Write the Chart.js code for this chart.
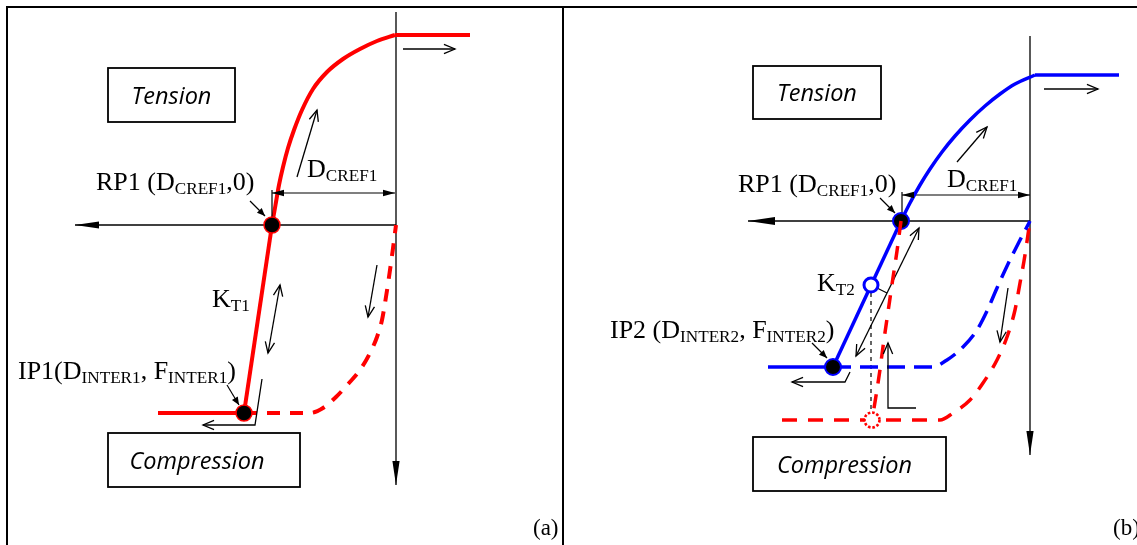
<!DOCTYPE html>
<html>
<head>
<meta charset="utf-8">
<script src="https://cdn.jsdelivr.net/npm/chart.js@4/dist/chart.umd.min.js"></script>
<style>
  html, body { margin: 0; padding: 0; background: #fff; }
  #wrap { position: relative; width: 1137px; height: 545px; overflow: hidden; background: #fff; }
  canvas { position: absolute; top: 0; }
  #cA { left: 0; }
  #cB { left: 563px; }
  .rule { position: absolute; background: #000; }
</style>
</head>
<body>
<div id="wrap">
  <canvas id="cA" width="563" height="545"></canvas>
  <canvas id="cB" width="574" height="545"></canvas>
  <div class="rule" style="left:6px;top:6px;width:1131px;height:2px"></div>
  <div class="rule" style="left:6px;top:6px;width:2px;height:539px"></div>
  <div class="rule" style="left:562px;top:6px;width:2px;height:539px"></div>
</div>
<script>
// ---------------- Panel (a) values: x = displacement (origin at axis cross), y = force ----------------
const aAxisH = [[0, 0], [-321, 0]];
const aAxisV = [[0, 213], [0, -260]];
const aTension = [[-124, 0], [-120.5, 20], [-117, 40], [-113, 58], [-108, 77], [-102, 95], [-94, 115], [-83, 136], [-69, 153], [-53, 166], [-36, 176], [-19, 184], [-1, 190]];
const aTensionCap = [[-1, 190], [74, 190]];
const aKT1 = [[-124, 0], [-152, -188]];
const aCompCap = [[-152, -188], [-238, -188]];
const aUnload = [[-152, -188], [-86, -188], [-73, -183], [-60, -172], [-47, -158], [-36, -145], [-26, -128], [-19, -112], [-14, -95], [-10.5, -75], [-7, -52], [-3.5, -27], [0, 0]];
const aKeyPoints = [[-124, 0], [-152, -188]];           // RP1, IP1
const aDim = [[-124, 32], [-1, 32]];
const aDimTick = [[-124, 35], [-124, 0]];
const aArrUp = [[-99, 48], [-79, 115]];
const aArrKT = [[-116, -60], [-128, -128]];
const aArrDown = [[-19, -40], [-28, -92]];
const aArrIP = [[-134, -154], [-141, -200], [-193, -200]];
const aArrRight = [[7, 176], [59, 176]];
const aPtrRP = [[-146, 24], [-131, 9]];
const aPtrIP = [[-169, -160], [-157, -180]];
const aBoxTension = [[-288, 157], [-161, 103]];
const aBoxComp = [[-288, -208], [-96, -262]];

// ---------------- Panel (b) values ----------------
const bAxisH = [[0, 0], [-282, 0]];
const bAxisV = [[0, 185], [0, -234]];
const bTension = [[-129, 0], [-120, 18], [-110, 36], [-100, 52], [-88, 69], [-75, 85], [-60, 101], [-45, 115], [-30, 127], [-15, 137], [5, 146]];
const bTensionCap = [[5, 146], [89, 146]];
const bKT2 = [[-129, 0], [-197, -146]];
const bCompCap = [[-197, -146], [-262, -146]];
const bUnload = [[-197, -146], [-98, -146], [-83, -139], [-67, -126], [-53, -109], [-43, -90], [-33, -67], [-22, -43], [-11, -21], [0, 0]];
const bReload = [[-129, 0], [-133, -30], [-137.5, -60], [-142, -91], [-146.5, -122], [-150.5, -152], [-154.5, -178], [-158, -199]];
const bPrevUnload = [[-248, -199], [-90, -199], [-77, -192], [-60, -179], [-47, -162], [-33, -139], [-23, -116], [-15, -89], [-10, -62], [-6, -40], [0, 0]];
const bProj = [[-159, -64], [-159, -199]];
const bKeyPoints = [[-129, 0], [-197, -146]];           // RP1, IP2
const bOpenPoint = [[-159, -64]];
const bDottedPoint = [[-158, -199]];
const bDim = [[-128, 26], [0, 26]];
const bDimTick = [[-128, 29], [-128, 0]];
const bArrUp = [[-73, 59], [-43, 94]];
const bArrKT = [[-111, -7], [-174, -135]];
const bLeader = [[-153, -67], [-143, -72]];
const bArrDown = [[-22, -67], [-30, -121]];
const bArrIP = [[-180, -151], [-185, -161], [-238, -161]];
const bArrReload = [[-114, -187], [-142, -187], [-142, -122]];
const bArrRight = [[14, 132], [68, 132]];
const bPtrRP = [[-150, 23], [-135, 8]];
const bPtrIP = [[-218, -122], [-203, -137]];
const bBoxTension = [[-277, 155], [-149, 102]];
const bBoxComp = [[-277, -216], [-84, -270]];

// ---------------- texts ----------------
const txtTension = 'Tension';
const txtComp = 'Compression';
const lblRP1 = [['RP1 (D', 0], ['CREF1', 1], [',0)', 0]];
const lblDcref = [['D', 0], ['CREF1', 1]];
const lblKT1 = [['K', 0], ['T1', 1]];
const lblKT2 = [['K', 0], ['T2', 1]];
const lblIP1 = [['IP1(D', 0], ['INTER1', 1], [', F', 0], ['INTER1', 1], [')', 0]];
const lblIP2 = [['IP2 (D', 0], ['INTER2', 1], [', F', 0], ['INTER2', 1], [')', 0]];
const lblA = [['(a)', 0]];
const lblB = [['(b)', 0]];

// ---------------- styling helpers ----------------
const RED = '#ff0000', BLUE = '#0000ff', BLK = '#000000';
const pts = arr => arr.map(([x, y]) => ({ x, y }));
const SMOOTH = { cubicInterpolationMode: 'monotone' };

function line(arr, color, width, extra) {
  return Object.assign({
    data: pts(arr), showLine: true, borderColor: color, borderWidth: width,
    pointRadius: 0, pointHoverRadius: 0, fill: false, tension: 0, clip: false,
    borderCapStyle: 'butt', borderJoinStyle: 'miter'
  }, extra || {});
}
function dots(arr, fill, border, r, bw, extra) {
  return Object.assign({
    data: pts(arr), showLine: false, pointRadius: r, pointHoverRadius: r,
    pointBackgroundColor: fill, pointBorderColor: border, pointBorderWidth: bw, clip: false
  }, extra || {});
}
const FILLED_AXIS = { type: 'filled', len: 24, w: 3.6 };
const FILLED_DIM = { type: 'filled', len: 12, w: 3.2 };
const FILLED_PTR = { type: 'filled', len: 8, w: 3.4 };
const OPEN = { type: 'open', len: 12, ang: 0.4 };

function dottedCircle() {
  const c = document.createElement('canvas');
  c.width = 22; c.height = 22;
  const g = c.getContext('2d');
  g.beginPath(); g.arc(11, 11, 7.5, 0, Math.PI * 2);
  g.fillStyle = '#fff'; g.fill();
  g.setLineDash([2.6, 1.8]); g.lineWidth = 2.6; g.strokeStyle = RED; g.stroke();
  return c;
}

function schematicPlugin(boxes, labels) {
  return {
    id: 'schematic',
    afterDatasetsDraw(chart) {
      const { ctx } = chart;
      const sx = chart.scales.x, sy = chart.scales.y;
      const X = v => sx.getPixelForValue(v), Y = v => sy.getPixelForValue(v);
      ctx.save();
      chart.data.datasets.forEach(ds => {
        if (!ds.arrows) return;
        const d = ds.data;
        const head = (from, to, spec) => {
          const ax = X(from.x), ay = Y(from.y), bx = X(to.x), by = Y(to.y);
          const t = Math.atan2(by - ay, bx - ax);
          ctx.strokeStyle = BLK; ctx.fillStyle = BLK; ctx.setLineDash([]);
          if (spec.type === 'filled') {
            const cx = bx - spec.len * Math.cos(t), cy = by - spec.len * Math.sin(t);
            ctx.beginPath();
            ctx.moveTo(bx, by);
            ctx.lineTo(cx - spec.w * Math.sin(t), cy + spec.w * Math.cos(t));
            ctx.lineTo(cx + spec.w * Math.sin(t), cy - spec.w * Math.cos(t));
            ctx.closePath(); ctx.fill();
          } else {
            ctx.lineWidth = 1.3;
            ctx.beginPath();
            ctx.moveTo(bx - spec.len * Math.cos(t - spec.ang), by - spec.len * Math.sin(t - spec.ang));
            ctx.lineTo(bx, by);
            ctx.lineTo(bx - spec.len * Math.cos(t + spec.ang), by - spec.len * Math.sin(t + spec.ang));
            ctx.stroke();
          }
        };
        if (ds.arrows.end) head(d[d.length - 2], d[d.length - 1], ds.arrows.end);
        if (ds.arrows.start) head(d[1], d[0], ds.arrows.start);
      });
      boxes.forEach(b => {
        const x0 = X(b.rect[0][0]), y0 = Y(b.rect[0][1]), x1 = X(b.rect[1][0]), y1 = Y(b.rect[1][1]);
        ctx.lineWidth = 1.8; ctx.strokeStyle = BLK; ctx.setLineDash([]);
        ctx.strokeRect(x0, y0, x1 - x0, y1 - y0);
        ctx.font = 'italic 23.5px "Open Sans"';
        ctx.fillStyle = BLK; ctx.textAlign = 'center'; ctx.textBaseline = 'alphabetic';
        ctx.fillText(b.text, (x0 + x1) / 2 + (b.dx || 0), (y0 + y1) / 2 + 8.5);
      });
      labels.forEach(l => {
        ctx.save();
        ctx.translate(X(l.at[0]), Y(l.at[1]));
        ctx.scale(l.stretch || 1.04, 1);
        ctx.fillStyle = BLK; ctx.textAlign = 'left'; ctx.textBaseline = 'alphabetic';
        let cx = 0;
        l.parts.forEach(([t, sub]) => {
          ctx.font = sub ? '16.5px "Liberation Serif"' : (l.size || 25) + 'px "Liberation Serif"';
          ctx.fillText(t, cx, sub ? 4 : 0);
          cx += ctx.measureText(t).width;
        });
        ctx.restore();
      });
      ctx.restore();
    }
  };
}

function makeChart(id, xr, yr, datasets, boxes, labels) {
  const n = datasets.length;
  datasets.forEach((d, i) => { d.order = n - i; });   // first listed = drawn first (bottom)
  return new Chart(document.getElementById(id), {
    type: 'scatter',
    data: { datasets },
    options: {
      responsive: false, animation: false, events: [],
      layout: { padding: 0, autoPadding: false },
      plugins: { legend: { display: false }, tooltip: { enabled: false } },
      scales: {
        x: { type: 'linear', display: false, min: xr[0], max: xr[1] },
        y: { type: 'linear', display: false, min: yr[0], max: yr[1] }
      }
    },
    plugins: [schematicPlugin(boxes, labels)]
  });
}

// ---------------- Panel (a) ----------------
makeChart('cA', [-396, 167], [-320, 225], [
  line(aAxisH, BLK, 1.3, { arrows: { end: FILLED_AXIS } }),
  line(aAxisV, BLK, 1.3, { arrows: { end: FILLED_AXIS } }),
  line(aDim, BLK, 1.2, { arrows: { start: FILLED_DIM, end: FILLED_DIM } }),
  line(aUnload, RED, 4, Object.assign({ borderDash: [13, 10] }, SMOOTH)),
  line(aCompCap, RED, 4),
  line(aKT1, RED, 4),
  line(aTension, RED, 4, SMOOTH),
  line(aTensionCap, RED, 4),
  line(aDimTick, BLK, 1.2),
  line(aArrUp, BLK, 1.3, { arrows: { end: OPEN } }),
  line(aArrKT, BLK, 1.3, { arrows: { start: OPEN, end: OPEN } }),
  line(aArrDown, BLK, 1.3, { arrows: { end: OPEN } }),
  line(aArrIP, BLK, 1.3, { arrows: { end: OPEN } }),
  line(aArrRight, BLK, 1.3, { arrows: { end: OPEN } }),
  line(aPtrRP, BLK, 1.2, { arrows: { end: FILLED_PTR } }),
  line(aPtrIP, BLK, 1.2, { arrows: { end: FILLED_PTR } }),
  dots(aKeyPoints, BLK, RED, 8, 1.5)
], [
  { rect: aBoxTension, text: txtTension },
  { rect: aBoxComp, text: txtComp, dx: -7 }
], [
  { at: [-300, 35], parts: lblRP1 },
  { at: [-89, 48], parts: lblDcref },
  { at: [-184, -82], parts: lblKT1 },
  { at: [-378, -154], parts: lblIP1 },
  { at: [137, -310], parts: lblA, size: 23, stretch: 1 }
]);

// ---------------- Panel (b) ----------------
makeChart('cB', [-467, 107], [-324, 221], [
  line(bAxisH, BLK, 1.3, { arrows: { end: Object.assign({}, FILLED_AXIS, { len: 27, w: 4 }) } }),
  line(bAxisV, BLK, 1.3, { arrows: { end: FILLED_AXIS } }),
  line(bDim, BLK, 1.2, { arrows: { start: FILLED_DIM, end: FILLED_DIM } }),
  line(bProj, BLK, 1.2, { borderDash: [4, 4] }),
  line(bPrevUnload, RED, 3.5, Object.assign({ borderDash: [15, 11] }, SMOOTH)),
  line(bUnload, BLUE, 3.5, Object.assign({ borderDash: [18, 9] }, SMOOTH)),
  line(bCompCap, BLUE, 3.5),
  line(bKT2, BLUE, 3.5),
  line(bTension, BLUE, 3.5, SMOOTH),
  line(bTensionCap, BLUE, 3.5),
  line(bDimTick, BLK, 1.2),
  line(bArrUp, BLK, 1.3, { arrows: { end: OPEN } }),
  line(bArrKT, BLK, 1.3, { arrows: { start: OPEN, end: OPEN } }),
  line(bLeader, BLK, 1.2),
  line(bArrDown, BLK, 1.3, { arrows: { end: OPEN } }),
  line(bArrIP, BLK, 1.3, { arrows: { end: OPEN } }),
  line(bArrReload, BLK, 1.3, { arrows: { end: OPEN } }),
  line(bArrRight, BLK, 1.3, { arrows: { end: OPEN } }),
  line(bPtrRP, BLK, 1.2, { arrows: { end: FILLED_PTR } }),
  line(bPtrIP, BLK, 1.2, { arrows: { end: FILLED_PTR } }),
  dots(bKeyPoints, BLK, BLUE, 8, 2),
  line(bReload, RED, 3.5, Object.assign({ borderDash: [14, 11] }, SMOOTH)),
  dots(bOpenPoint, '#ffffff', BLUE, 7, 3),
  dots(bDottedPoint, '#ffffff', RED, 8, 0, { pointStyle: dottedCircle() })
], [
  { rect: bBoxTension, text: txtTension },
  { rect: bBoxComp, text: txtComp, dx: -5 }
], [
  { at: [-292, 29], parts: lblRP1 },
  { at: [-83, 34], parts: lblDcref },
  { at: [-213, -70], parts: lblKT2 },
  { at: [-420, -117], parts: lblIP2 },
  { at: [83, -314], parts: lblB, size: 23, stretch: 1 }
]);
</script>
</body>
</html>
